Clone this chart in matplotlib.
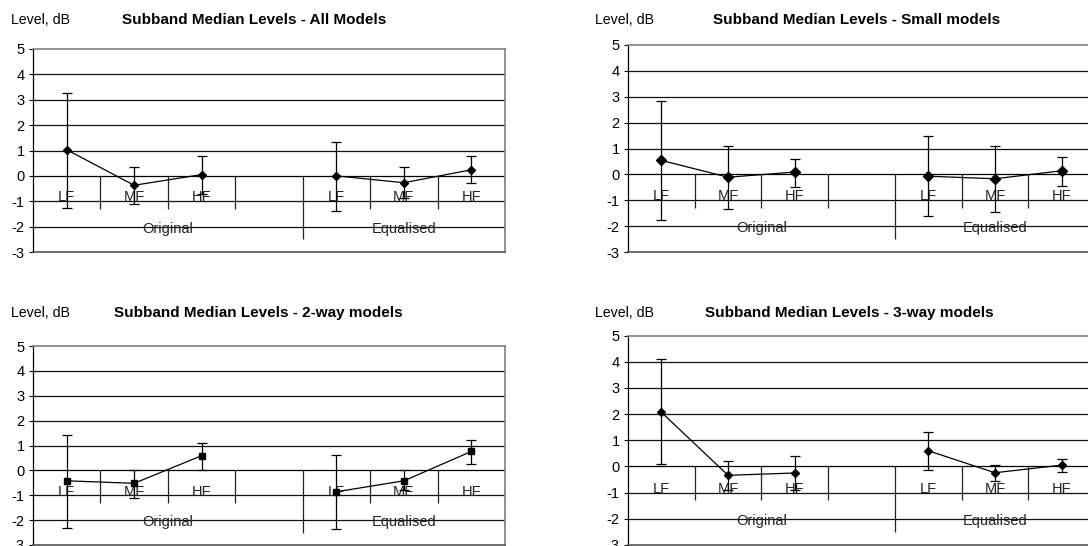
import numpy as np
import matplotlib
matplotlib.use("Agg")
import matplotlib.pyplot as plt

plt.rcParams['font.family'] = ['Liberation Sans', 'DejaVu Sans']
plt.rcParams['axes.unicode_minus'] = False

W, H = 1088, 546
nan = np.nan

categories = ["LF", "MF", "HF", "", "LF", "MF", "HF"]
groups = ["Original", "Equalised"]
group_spans = [(0, 3), (4, 6)]
y_ticks = [-3, -2, -1, 0, 1, 2, 3, 4, 5]

# All models
all_med = [1.03, -0.37, 0.05, nan, 0.0, -0.27, 0.24]
all_lo = [-1.28, -1.12, -0.72, nan, -1.38, -0.88, -0.27]
all_hi = [3.27, 0.35, 0.77, nan, 1.33, 0.35, 0.77]

# Small models
small_med = [0.54, -0.11, 0.09, nan, -0.07, -0.17, 0.14]
small_lo = [-1.76, -1.34, -0.49, nan, -1.60, -1.45, -0.43]
small_hi = [2.85, 1.11, 0.60, nan, 1.47, 1.11, 0.66]

# 2-way models
two_med = [-0.42, -0.52, 0.59, nan, -0.86, -0.42, 0.76]
two_lo = [-2.31, -1.13, 0.0, nan, -2.36, -0.80, 0.27]
two_hi = [1.42, 0.0, 1.11, nan, 0.63, 0.0, 1.21]

# 3-way models
three_med = [2.07, -0.34, -0.25, nan, 0.60, -0.24, 0.05]
three_lo = [0.10, -0.90, -0.90, nan, -0.15, -0.57, -0.20]
three_hi = [4.10, 0.20, 0.41, nan, 1.31, 0.06, 0.30]


def draw_panel(fig, rect, title, title_xy, level_xy, med, lo, hi, marker, ms):
    ax = fig.add_axes(rect)
    x = np.arange(len(categories))
    med = np.array(med)
    err = [med - np.array(lo), np.array(hi) - med]

    ax.set_xlim(-0.5, len(categories) - 0.5)
    ax.set_ylim(-3, 5)

    # horizontal gridlines
    for y in y_ticks[1:-1]:
        ax.axhline(y, color='#111111' if y != 0 else 'black', lw=0.9, zorder=1)

    # category separators hanging from the zero line
    long_edges = [e + 0.5 for _, e in group_spans]
    for b in np.arange(len(categories)) + 0.5:
        ymin = -2.5 if b in long_edges else -1.3
        ax.vlines(b, ymin, 0, color='#222222', lw=0.9, zorder=1)

    for i, lab in enumerate(categories):
        if lab:
            ax.text(i, -0.85, lab, ha='center', va='center', fontsize=10.5, color='#222222', zorder=2)
    for g, (s, e) in zip(groups, group_spans):
        ax.text((s + e) / 2, -2.08, g, ha='center', va='center', fontsize=10.5, color='#222222', zorder=2)

    ax.errorbar(x, med, yerr=err, fmt='none', ecolor='black', elinewidth=0.9,
                capsize=3.3, capthick=0.9, zorder=3)
    ax.plot(x, med, color='black', lw=0.9, marker=marker, ms=ms,
            markerfacecolor='black', markeredgecolor='black', zorder=4)

    ax.set_xticks([])
    ax.set_yticks(y_ticks)
    ax.tick_params(axis='y', direction='out', length=3, width=0.8, labelsize=10.5, pad=3)
    ax.spines['left'].set_color('black')
    ax.spines['left'].set_linewidth(0.9)
    for s in ['top', 'right']:
        ax.spines[s].set_color('#808080')
        ax.spines[s].set_linewidth(1.2)
    ax.spines['bottom'].set_color('#555555')
    ax.spines['bottom'].set_linewidth(1.2)
    ax.patch.set_alpha(0)

    fig.text(level_xy[0] / W, 1 - level_xy[1] / H, "Level, dB", fontsize=10.2,
             ha='left', va='center')
    fig.text(title_xy[0] / W, 1 - title_xy[1] / H, title, fontsize=11,
             fontweight='bold', ha='center', va='center')
    return ax


fig = plt.figure(figsize=(W / 100, H / 100), dpi=100)
fig.patch.set_facecolor('white')

draw_panel(fig, [33 / W, 1 - 252 / H, 472 / W, 203 / H],
           "Subband Median Levels - All Models", (254, 20), (11, 20),
           all_med, all_lo, all_hi, 'D', 4.2)
draw_panel(fig, [628 / W, 1 - 252 / H, 467 / W, 207 / H],
           "Subband Median Levels - Small models", (857, 20), (595, 20),
           small_med, small_lo, small_hi, 'D', 5.2)
draw_panel(fig, [33 / W, 1 - 545 / H, 472 / W, 199 / H],
           "Subband Median Levels - 2-way models", (258, 313), (11, 313),
           two_med, two_lo, two_hi, 's', 5)
draw_panel(fig, [628 / W, 1 - 545 / H, 467 / W, 209.5 / H],
           "Subband Median Levels - 3-way models", (849, 313), (595, 313),
           three_med, three_lo, three_hi, 'D', 4.5)

fig.savefig("out.png", dpi=100)
